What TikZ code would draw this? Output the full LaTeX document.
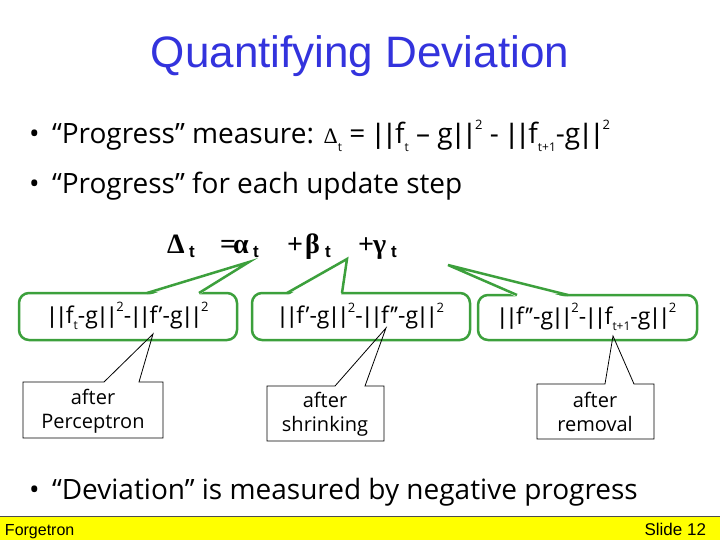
\documentclass[tikz,border=0pt]{standalone}
\usepackage{fontspec}
\setmainfont{Open Sans}
\newfontfamily\arialf{Liberation Sans}
\newfontfamily\symf{Liberation Serif}
\definecolor{titleblue}{RGB}{51,51,221}
\definecolor{callgreen}{RGB}{60,160,60}
\definecolor{footyellow}{RGB}{255,255,0}
\newcommand{\lo}[1]{\raisebox{-0.28em}{\fontsize{12}{12}\selectfont #1}}
\newcommand{\hi}[1]{\raisebox{0.5em}{\fontsize{13}{13}\selectfont #1}}
\newcommand{\nbars}{{\arialf\kern0.07em|\kern0.14em|\kern0.07em}}
\begin{document}
\begin{tikzpicture}[x=1pt,y=-1pt,
  every node/.style={inner sep=0pt, outer sep=0pt},
  bullettext/.style={anchor=base west, font=\fontsize{28}{32}\selectfont},
  greek/.style={anchor=base west, font=\symf\bfseries\fontsize{28}{30}\selectfont},
  tsub/.style={anchor=base west, font=\arialf\bfseries\fontsize{17}{17}\selectfont},
  gbox/.style={draw=callgreen, line width=2.5pt, rounded corners=10pt, fill=white},
  gwedge/.style={draw=callgreen, line width=2.5pt, line join=miter},
  bcall/.style={draw=black, line width=0.8pt, line join=miter},
  boxtext/.style={font=\fontsize{23}{26}\selectfont},
  calltext/.style={align=center, font=\fontsize{20}{24}\selectfont}]
\useasboundingbox (0,0) rectangle (720,540);
\fill[white] (0,0) rectangle (720,540);

% title
\node[anchor=base, font=\arialf\fontsize{44}{50}\selectfont, text=titleblue] (title) at (360,68) {Quantifying Deviation};

% bullet lines
\node[bullettext] (dot1) at (29,144) {•};
\node[bullettext] (line1) at (52,144) {“Progress” measure: {\symf\fontsize{22}{22}\selectfont Δ}\lo{t} {\fontsize{28}{28}\selectfont = \nbars f\lo{t} – g\nbars\hi{2} - \nbars f\lo{t+1}-g\nbars\hi{2}}};
\node[bullettext] (dot2) at (29,194) {•};
\node[bullettext] (line2) at (52,194) {“Progress” for each update step};

% equation
\node[greek] (delta) at (167,253) {Δ};
\node[tsub] (tdelta) at (189,257) {t};
\node[greek] (eq) at (220,253) {=};
\node[greek] (alpha) at (233,253) {α};
\node[tsub] (talpha) at (253,257) {t};
\node[greek] (plus1) at (287,253) {+};
\node[greek] (beta) at (305,253) {β};
\node[tsub] (tbeta) at (325,257) {t};
\node[greek] (plus2) at (358,253) {+};
\node[greek] (gamma) at (373,253) {γ};
\node[tsub] (tgamma) at (391,257) {t};

% green callouts
\coordinate (tipA) at (249,262);
\coordinate (tipB) at (347,259);
\coordinate (tipC) at (448,265);
\draw[gbox] (19,293) rectangle (237,340);
\fill[white] (148,295.5) -- (tipA) -- (198,295.5) -- cycle;
\draw[gwedge] (147,293) -- (tipA) -- (199,293);
\draw[gbox] (252,293) rectangle (470,340);
\fill[white] (288,295.5) -- (tipB) -- (341,295.5) -- cycle;
\draw[gwedge] (287,293) -- (tipB) -- (342,293);
\draw[gbox] (478,295) rectangle (697,340);
\fill[white] (518,297.5) -- (tipC) -- (567,297.5) -- cycle;
\draw[gwedge] (517,295) -- (tipC) -- (568,295);

\node[boxtext] (ga) at (128,316) {\nbars f\lo{t}-g\nbars\hi{2}-\nbars f’-g\nbars\hi{2}};
\node[boxtext] (gb) at (361,316) {\nbars f’-g\nbars\hi{2}-\nbars f’’-g\nbars\hi{2}};
\node[boxtext] (gc) at (587,317) {\nbars f’’-g\nbars\hi{2}-\nbars f\lo{t+1}-g\nbars\hi{2}};

% black callouts
\coordinate (tipP) at (153,334);
\coordinate (tipS) at (386,328);
\coordinate (tipR) at (613,336);
\draw[bcall] (23,382) -- (104,382) -- (tipP) -- (139,382) -- (163,382) -- (163,438) -- (23,438) -- cycle;
\draw[bcall] (267,386) -- (335,386) -- (tipS) -- (365,386) -- (384,386) -- (384,441) -- (267,441) -- cycle;
\draw[bcall] (537,384) -- (605,384) -- (tipR) -- (634,384) -- (654,384) -- (654,439) -- (537,439) -- cycle;
\node[calltext] (cp) at (93,411) {after\\Perceptron};
\node[calltext] (cs) at (325,414) {after\\shrinking};
\node[calltext] (cr) at (595,412) {after\\removal};

% last bullet
\node[bullettext] (dot3) at (29,499) {•};
\node[bullettext] (line3) at (52,499) {“Deviation” is measured by negative progress};

% footer
\fill[footyellow] (0,516) rectangle (720,540);
\draw[black!70, line width=1pt] (0,516) -- (720,516);
\node[anchor=base west, font=\arialf\fontsize{16}{18}\selectfont] (foot) at (5,535) {Forgetron};
\node[anchor=base east, font=\arialf\fontsize{17}{18}\selectfont] (slide) at (706,535) {Slide 12};
\end{tikzpicture}
\end{document}
